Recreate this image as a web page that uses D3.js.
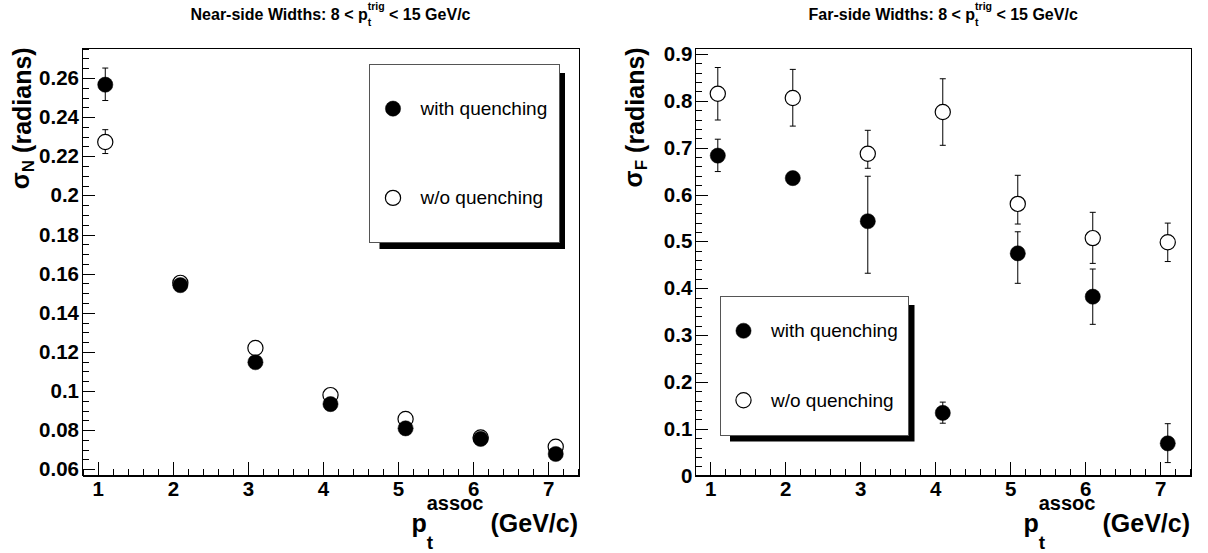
<!DOCTYPE html>
<html><head><meta charset="utf-8">
<script src="https://cdn.jsdelivr.net/npm/d3@7"></script>
<style>body{margin:0;background:#fff}svg{display:block}</style>
</head><body>
<script>
// ---------------- data ----------------
const xVals = [1.1, 2.1, 3.1, 4.1, 5.1, 6.1, 7.1];

const nearWith      = [0.2566, 0.1541, 0.1147, 0.0933, 0.0809, 0.0755, 0.0678];
const nearWithErrHi = [0.0085, 0.0015, 0.0015, 0.0012, 0.0012, 0.0012, 0.0012];
const nearWithErrLo = [0.0081, 0.0015, 0.0015, 0.0012, 0.0012, 0.0012, 0.0012];
const nearWo        = [0.2273, 0.1553, 0.1220, 0.0979, 0.0857, 0.0762, 0.0715];
const nearWoErrHi   = [0.0063, 0.0015, 0.0015, 0.0012, 0.0012, 0.0012, 0.0012];
const nearWoErrLo   = [0.0059, 0.0015, 0.0015, 0.0012, 0.0012, 0.0012, 0.0012];

const farWith       = [0.683, 0.635, 0.543, 0.134, 0.4745, 0.382, 0.069];
const farWithErrHi  = [0.035, 0.005, 0.096, 0.023, 0.046, 0.059, 0.042];
const farWithErrLo  = [0.034, 0.005, 0.111, 0.022, 0.064, 0.059, 0.041];
const farWo         = [0.815, 0.806, 0.687, 0.776, 0.580, 0.507, 0.498];
const farWoErrHi    = [0.056, 0.061, 0.050, 0.071, 0.061, 0.055, 0.041];
const farWoErrLo    = [0.056, 0.060, 0.031, 0.071, 0.043, 0.054, 0.041];

const xTicks     = [1, 2, 3, 4, 5, 6, 7];
const nearYTicks = [0.06, 0.08, 0.10, 0.12, 0.14, 0.16, 0.18, 0.20, 0.22, 0.24, 0.26];
const farYTicks  = [0, 0.1, 0.2, 0.3, 0.4, 0.5, 0.6, 0.7, 0.8, 0.9];
const legendLabels = ["with quenching", "w/o quenching"];
const nearTitle = ["Near-side Widths: 8 < p", "trig", "t", "< 15 GeV/c"];
const farTitle  = ["Far-side Widths: 8 < p", "trig", "t", "< 15 GeV/c"];
const xTitle    = ["p", "assoc", "t", "(GeV/c)"];
const nearYTitle = ["σ", "N", "(radians)"];
const farYTitle  = ["σ", "F", "(radians)"];

// ---------------- drawing ----------------
const W = 1208, H = 553;
const FONT = "'Liberation Sans', Arial, Helvetica, sans-serif";
const svg = d3.select("body").append("svg").attr("width", W).attr("height", H)
  .style("background", "#fff");

// rich text: segs = array of items; item either {t,size,dy,gap} or {stack:[...]}
function rich(parent, x, y, anchor, segs, opts = {}) {
  const g = parent.append("g")
    .attr("transform", `translate(${x},${y})` + (opts.rotate ? " rotate(-90)" : ""));
  let cx = 0;
  const put = s => {
    const t = g.append("text").attr("x", cx).attr("y", s.dy || 0)
      .attr("font-family", FONT).attr("font-size", s.size)
      .attr("font-weight", opts.weight || "bold").attr("fill", "#000")
      .text(s.t);
    return t.node().getComputedTextLength();
  };
  segs.forEach(s => {
    cx += s.gap || 0;
    if (s.stack) {
      let w = 0;
      s.stack.forEach(ss => { w = Math.max(w, put(ss)); });
      cx += w;
    } else cx += put(s);
  });
  const shift = anchor === "middle" ? -cx / 2 : anchor === "end" ? -cx : 0;
  g.selectAll("text").attr("x", function () { return +this.getAttribute("x") + shift; });
  return g;
}

function panel(cfg) {
  const [x0, y0, x1, y1] = cfg.frame;
  const x = d3.scaleLinear().domain(cfg.xDomain).range([x0, x1]);
  const y = d3.scaleLinear().domain(cfg.yDomain).range([y1, y0]);
  const g = svg.append("g");

  // frame
  g.append("rect").attr("x", x0).attr("y", y0).attr("width", x1 - x0).attr("height", y1 - y0)
    .attr("fill", "none").attr("stroke", "#000").attr("stroke-width", 1)
    .attr("shape-rendering", "crispEdges");

  const fmt = d => String(+d.toFixed(3));

  // minor ticks
  const yMinor = g.append("g").attr("transform", `translate(${x0},0)`)
    .call(d3.axisLeft(y).tickValues(cfg.yMinor).tickSize(-7).tickFormat(""));
  const xMinor = g.append("g").attr("transform", `translate(0,${y1})`)
    .call(d3.axisBottom(x).tickValues(cfg.xMinor).tickSize(-7).tickFormat(""));
  [yMinor, xMinor].forEach(a => { a.select(".domain").remove(); a.selectAll("text").remove(); });

  // major axes
  const yAx = g.append("g").attr("transform", `translate(${x0},0)`)
    .call(d3.axisLeft(y).tickValues(cfg.yTicks).tickSize(-13).tickSizeOuter(0)
      .tickPadding(3).tickFormat(fmt));
  const xAx = g.append("g").attr("transform", `translate(0,${y1})`)
    .call(d3.axisBottom(x).tickValues(xTicks).tickSize(-14).tickSizeOuter(0)
      .tickPadding(5.5).tickFormat(fmt));
  [yAx, xAx, yMinor, xMinor].forEach(a => {
    a.selectAll("line").attr("stroke", "#000").attr("shape-rendering", "crispEdges");
    a.selectAll(".domain").attr("stroke", "#000").attr("stroke-width", 1.4)
      .attr("shape-rendering", "crispEdges");
    a.selectAll("text").attr("font-family", FONT).attr("font-size", 20.5)
      .attr("font-weight", "bold").attr("fill", "#000");
  });

  // series: open first, then filled on top
  const series = [
    { v: cfg.wo, hi: cfg.woHi, lo: cfg.woLo, filled: false },
    { v: cfg.with, hi: cfg.withHi, lo: cfg.withLo, filled: true }
  ];
  series.forEach(s => {
    const data = xVals.map((xv, i) => ({ x: xv, y: s.v[i], hi: s.v[i] + s.hi[i], lo: s.v[i] - s.lo[i] }));
    const eg = g.append("g").attr("stroke", "#000").attr("stroke-width", 1);
    eg.selectAll("line.bar").data(data).join("line")
      .attr("x1", d => x(d.x)).attr("x2", d => x(d.x))
      .attr("y1", d => y(d.hi)).attr("y2", d => y(d.lo));
    eg.selectAll("line.capT").data(data).join("line")
      .attr("x1", d => x(d.x) - 3).attr("x2", d => x(d.x) + 3)
      .attr("y1", d => y(d.hi)).attr("y2", d => y(d.hi));
    eg.selectAll("line.capB").data(data).join("line")
      .attr("x1", d => x(d.x) - 3).attr("x2", d => x(d.x) + 3)
      .attr("y1", d => y(d.lo)).attr("y2", d => y(d.lo));
    g.append("g").selectAll("circle").data(data).join("circle")
      .attr("cx", d => x(d.x)).attr("cy", d => y(d.y))
      .attr("r", 7.6)
      .attr("fill", s.filled ? "#000" : "#fff")
      .attr("stroke", "#000").attr("stroke-width", s.filled ? 0.5 : 1.2);
  });

  // legend
  const L = cfg.legend;
  g.append("rect").attr("x", L.x + 10).attr("y", L.y + 9)
    .attr("width", L.w - 4).attr("height", L.h - 2.5).attr("fill", "#000");
  g.append("rect").attr("x", L.x).attr("y", L.y).attr("width", L.w).attr("height", L.h)
    .attr("fill", "#fff").attr("stroke", "#555").attr("stroke-width", 1)
    .attr("shape-rendering", "crispEdges");
  const rowH = L.h / legendLabels.length;
  legendLabels.forEach((lab, i) => {
    const cy = L.y + rowH * (i + 0.5);
    g.append("circle").attr("cx", L.x + 23.5).attr("cy", cy).attr("r", 7.6)
      .attr("fill", i === 0 ? "#000" : "#fff").attr("stroke", "#000")
      .attr("stroke-width", i === 0 ? 0.5 : 1.2);
    g.append("text").attr("x", L.x + 51).attr("y", cy + 6.5)
      .attr("font-family", FONT).attr("font-size", 19).attr("fill", "#000")
      .text(lab);
  });

  // title
  const T = cfg.title;
  rich(svg, (x0 + x1) / 2, 20, "middle", [
    { t: T[0], size: 16 },
    { stack: [{ t: T[1], size: 10.5, dy: -10.5 }, { t: T[2], size: 10.5, dy: 6 }] },
    { t: T[3], size: 16, gap: 4.4 }
  ]);

  // x-axis title
  rich(svg, x1 - 1, 531.5, "end", [
    { t: xTitle[0], size: 25 },
    { stack: [{ t: xTitle[1], size: 20, dy: -22 }, { t: xTitle[2], size: 19, dy: 17.5 }] },
    { t: xTitle[3], size: 25, gap: 7 }
  ]);

  // y-axis title (rotated)
  const YT = cfg.yTitle;
  rich(svg, x0 - 51, y0 - 1, "end", [
    { t: YT[0], size: 25, dy: -2 },
    { t: YT[1], size: 17, dy: 3 },
    { t: YT[2], size: 25, gap: 7 }
  ], { rotate: true });
}

panel({
  frame: [82, 48.3, 579, 475.7],
  xDomain: [0.79, 7.41],
  yDomain: [0.0567, 0.2752],
  yTicks: nearYTicks,
  yMinor: d3.range(12, 56).map(i => i * 0.005),
  xMinor: d3.range(4, 38).map(i => i * 0.2),
  with: nearWith, withHi: nearWithErrHi, withLo: nearWithErrLo,
  wo: nearWo, woHi: nearWoErrHi, woLo: nearWoErrLo,
  legend: { x: 369.5, y: 64, w: 189.5, h: 178.5 },
  title: nearTitle,
  yTitle: nearYTitle
});

panel({
  frame: [695.3, 48.3, 1191, 475.7],
  xDomain: [0.80, 7.41],
  yDomain: [0, 0.912],
  yTicks: farYTicks,
  yMinor: d3.range(0, 46).map(i => i * 0.02),
  xMinor: d3.range(4, 38).map(i => i * 0.2),
  with: farWith, withHi: farWithErrHi, withLo: farWithErrLo,
  wo: farWo, woHi: farWoErrHi, woLo: farWoErrLo,
  legend: { x: 720, y: 296, w: 188.5, h: 139 },
  title: farTitle,
  yTitle: farYTitle
});
</script>
</body></html>
